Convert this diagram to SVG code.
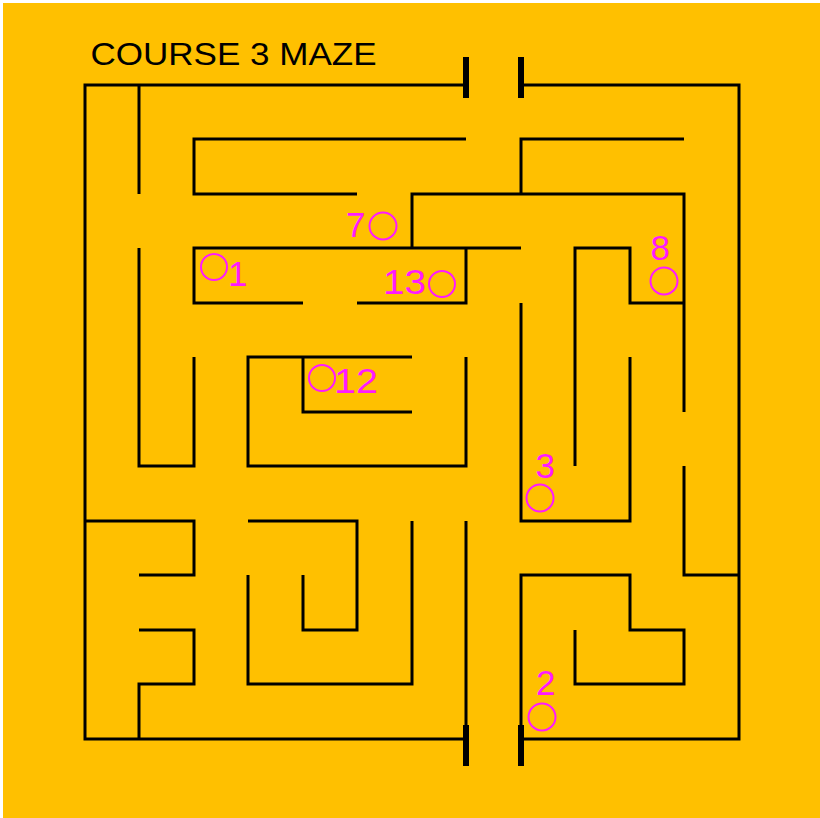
<svg xmlns="http://www.w3.org/2000/svg" width="820" height="818" viewBox="0 0 820 818">
<style>
.wall{fill:none;stroke:#000;stroke-width:3;stroke-linejoin:miter;stroke-linecap:butt}
.gate{fill:none;stroke:#000;stroke-width:6}
.lbl{font-family:"Liberation Sans",Arial,sans-serif;font-size:35px;fill:#FF1AFF}
.ring{fill:none;stroke:#FF1AFF;stroke-width:2}
.title{font-family:"Liberation Sans",Arial,sans-serif;font-size:31px;fill:#000}
</style>
<rect x="0" y="0" width="820" height="818" fill="#fff"/>
<rect x="3" y="3" width="817" height="815" fill="#FFC000"/>
<text id="title" class="title" x="90.5" y="65" textLength="286" lengthAdjust="spacingAndGlyphs">COURSE 3 MAZE</text>
<g id="walls" class="wall">
<path d="M466 85 H85 V739 H466 M466 521 V739"/>
<path d="M521 85 H739 V739 H521"/>
<path d="M521 739 V575 H630 V630 H684 V684 H575 V630"/>
<path d="M139 85 V194"/>
<path d="M466 139 H194 V194 H357"/>
<path d="M139 248 V466 H194 V357"/>
<path d="M303 303 H194 V248 H521"/>
<path d="M357 303 H466 V248"/>
<path d="M412 248 V194 H684 V412"/>
<path d="M521 194 V139 H684"/>
<path d="M521 303 V521 H630 V357"/>
<path d="M575 466 V248 H630 V303 H684"/>
<path d="M684 466 V575 H739"/>
<path d="M412 357 H248 V466 H466 V357"/>
<path d="M412 412 H303 V357"/>
<path d="M85 521 H194 V575 H139"/>
<path d="M139 630 H194 V684 H139 V739"/>
<path d="M248 521 H357 V630 H303 V575"/>
<path d="M248 575 V684 H412 V521"/>
</g>
<g id="gates" class="gate">
<path d="M466 57 V98 M521 57 V98 M466 725 V766 M521 725 V766"/>
</g>
<g id="cp7"><text class="lbl" x="346" y="237">7</text><circle class="ring" cx="383" cy="226" r="13.5"/></g>
<g id="cp1"><circle class="ring" cx="214" cy="267" r="13"/><text class="lbl" x="228" y="286">1</text></g>
<g id="cp13"><text class="lbl" x="383" y="294" textLength="43" lengthAdjust="spacingAndGlyphs">13</text><circle class="ring" cx="442" cy="284" r="13"/></g>
<g id="cp12"><circle class="ring" cx="322" cy="378" r="13"/><text class="lbl" x="334" y="393" textLength="44" lengthAdjust="spacingAndGlyphs">12</text></g>
<g id="cp8"><text class="lbl" x="650.5" y="260">8</text><circle class="ring" cx="664" cy="281" r="13.5"/></g>
<g id="cp3"><text class="lbl" x="535.5" y="478">3</text><circle class="ring" cx="540" cy="498" r="13.5"/></g>
<g id="cp2"><text class="lbl" x="536" y="695">2</text><circle class="ring" cx="542" cy="717" r="13.5"/></g>
</svg>
